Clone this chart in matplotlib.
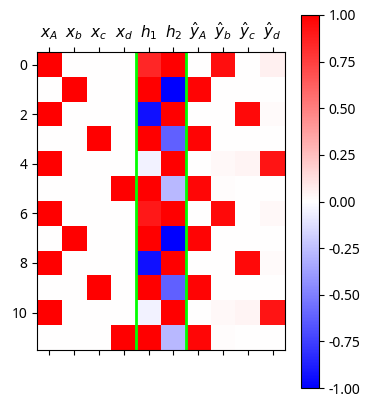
import matplotlib
matplotlib.use("Agg")
import matplotlib.pyplot as plt
import numpy as np

plt.rcParams['font.family'] = ['Noto Sans', 'DejaVu Sans']
plt.rcParams['axes.unicode_minus'] = False

col_labels = [r'$x_A$', r'$x_b$', r'$x_c$', r'$x_d$', r'$h_1$', r'$h_2$',
              r'$\hat{y}_A$', r'$\hat{y}_b$', r'$\hat{y}_c$', r'$\hat{y}_d$']

# one-hot inputs
x_in = [[1, 0, 0, 0], [0, 1, 0, 0], [1, 0, 0, 0], [0, 0, 1, 0], [1, 0, 0, 0], [0, 0, 0, 1],
        [1, 0, 0, 0], [0, 1, 0, 0], [1, 0, 0, 0], [0, 0, 1, 0], [1, 0, 0, 0], [0, 0, 0, 1]]
# hidden units
hidden = [[0.85, 1.0], [1.0, -1.0], [-0.93, 1.0], [1.0, -0.62], [-0.05, 1.0], [1.0, -0.28],
          [0.9, 1.0], [1.0, -1.0], [-0.93, 1.0], [1.0, -0.62], [-0.05, 1.0], [1.0, -0.28]]
# outputs
y_hat = [[0.0, 0.94, 0.0, 0.06], [0.98, 0.0, 0.0, 0.0], [0.0, 0.0, 0.96, 0.02],
         [0.98, 0.0, 0.0, 0.0], [0.0, 0.03, 0.04, 0.92], [0.97, 0.01, 0.0, 0.0],
         [0.0, 0.96, 0.0, 0.03], [0.98, 0.0, 0.0, 0.0], [0.0, 0.0, 0.96, 0.02],
         [0.98, 0.0, 0.0, 0.0], [0.0, 0.03, 0.04, 0.92], [0.97, 0.01, 0.0, 0.0]]

data = np.hstack([np.array(x_in), np.array(hidden), np.array(y_hat)])

fig = plt.figure(figsize=(3.72, 4.05), dpi=100)
ax = fig.add_axes([37/372, 1 - 350/405, 248/372, 298/405])
im = ax.imshow(data, cmap='bwr', vmin=-1, vmax=1)
ax.axvline(3.5, color='lime', lw=2)
ax.axvline(5.5, color='lime', lw=2)
ax.set_xticks(range(len(col_labels)))
ax.set_xticklabels(col_labels, fontsize=11)
ax.tick_params(axis='x', top=True, labeltop=True, bottom=True, labelbottom=False)

cax = fig.add_axes([301/372, 1 - 388/405, 18/372, 373/405])
cb = fig.colorbar(im, cax=cax)
cb.set_ticks(np.arange(-1, 1.01, 0.25))

plt.savefig('out.png', dpi=100)
